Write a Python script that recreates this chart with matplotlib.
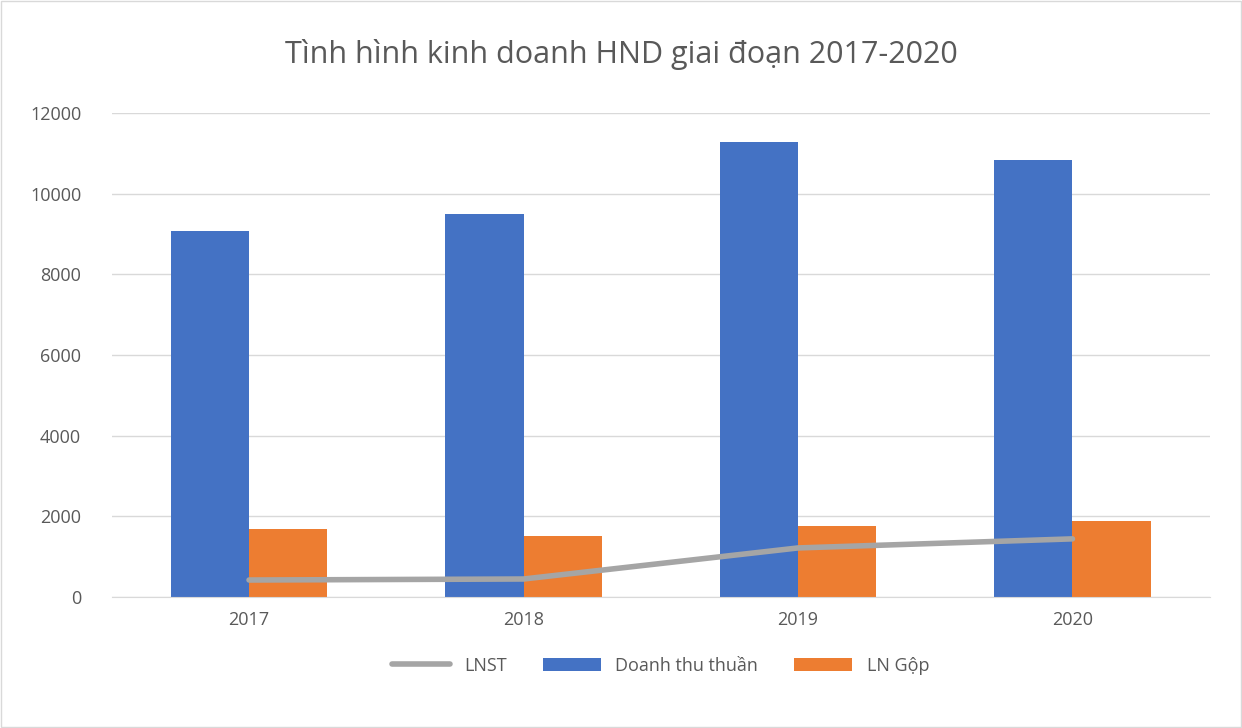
import matplotlib
matplotlib.use("Agg")
import matplotlib.pyplot as plt
import numpy as np

plt.rcParams["font.family"] = "Open Sans"

years = ["2017", "2018", "2019", "2020"]
doanh_thu = [9080, 9500, 11280, 10840]
ln_gop = [1690, 1510, 1760, 1880]
lnst = [420, 445, 1215, 1440]

fig = plt.figure(figsize=(12.42, 7.28), dpi=100)
ax = fig.add_axes([0.090, 0.180, 0.884, 0.665])
x = np.arange(len(years))
w = 0.285
ax.bar(x - w/2, doanh_thu, w, color="#4472C4", label="Doanh thu thuần", zorder=2)
ax.bar(x + w/2, ln_gop, w, color="#ED7D31", label="LN Gộp", zorder=2)
ax.plot(x, lnst, color="#A5A5A5", lw=4, label="LNST", zorder=3, solid_capstyle="round")

ax.set_xlim(-0.5, 3.5)
ax.set_ylim(0, 12000)
ax.set_yticks(range(0, 12001, 2000))
ax.set_xticks(x)
ax.set_xticklabels(years)
ax.grid(axis="y", color="#D9D9D9", lw=1, zorder=0)
for s in ["top", "right", "left"]:
    ax.spines[s].set_visible(False)
ax.spines["bottom"].set_color("#D9D9D9")
ax.tick_params(length=0, labelsize=13, colors="#595959", pad=10)
ax.tick_params(axis="y", pad=22)

fig.text(0.5, 0.925, "Tình hình kinh doanh HND giai đoạn 2017-2020", ha="center", va="center",
         fontsize=22, color="#595959")
ax.legend(loc="upper center", bbox_to_anchor=(0.5, -0.09), ncol=3, frameon=False,
          fontsize=13, labelcolor="#595959", handlelength=3.2, columnspacing=2)
fig.patches.append(plt.Rectangle((0.001, 0.001), 0.998, 0.998, transform=fig.transFigure,
                                 fill=False, edgecolor="#D9D9D9", lw=1))
fig.savefig("out.png", dpi=100)
